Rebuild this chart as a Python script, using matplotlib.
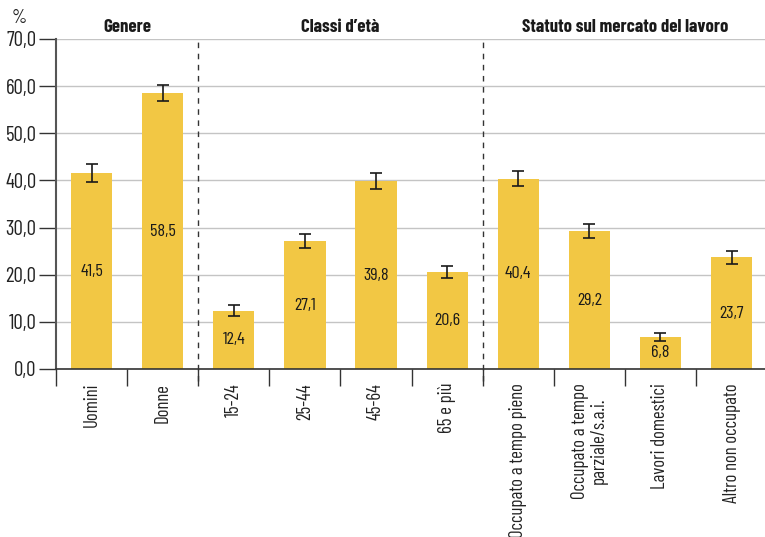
import matplotlib
matplotlib.use("Agg")
import matplotlib.pyplot as plt
from matplotlib.ticker import FixedLocator, NullFormatter

plt.rcParams["font.family"] = ["Barlow Condensed", "DejaVu Sans"]

categories = ["Uomini", "Donne", "15-24", "25-44", "45-64", "65 e più",
              "Occupato a tempo pieno", "Occupato a tempo\nparziale/s.a.i.",
              "Lavori domestici", "Altro non occupato"]
values = [41.5, 58.5, 12.4, 27.1, 39.8, 20.6, 40.4, 29.2, 6.8, 23.7]
errors = [1.9, 1.7, 1.2, 1.5, 1.7, 1.2, 1.6, 1.5, 0.9, 1.4]
labels = ["41,5", "58,5", "12,4", "27,1", "39,8", "20,6", "40,4", "29,2", "6,8", "23,7"]
groups = ["Genere", "Classi d\u2019età", "Statuto sul mercato del lavoro"]
group_centers = [0.5, 3.5, 7.5]
dividers = [1.5, 5.5]
yticks = [0, 10, 20, 30, 40, 50, 60, 70]
ytick_labels = ["0,0", "10,0", "20,0", "30,0", "40,0", "50,0", "60,0", "70,0"]

fig = plt.figure(figsize=(7.65, 5.37), dpi=100)
ax = fig.add_axes([56/765, 1-369/537, 1-56/765, (369-39)/537])

x = list(range(len(categories)))
ax.bar(x, values, width=0.58, color="#F2C744", zorder=2)
ax.errorbar(x, values, yerr=errors, fmt="none", ecolor="#1a1a1a",
            elinewidth=1.2, capsize=4, capthick=1.2, zorder=3)
for xi, v, lab in zip(x, values, labels):
    ax.text(xi, v/2, lab, ha="center", va="center", fontsize=13,
            color="#1a1a1a", zorder=4)

ax.set_xlim(-0.5, 9.47)
ax.set_ylim(0, 70)
ax.set_yticks(yticks)
ax.set_yticklabels(ytick_labels, fontsize=15, color="#222222")
ax.yaxis.grid(True, color="#c4c4c4", linewidth=1.0, zorder=0)
ax.set_axisbelow(True)
ax.tick_params(axis="y", length=12, width=1.0, color="#333333", pad=2)

ax.set_xticks(x)
ax.set_xticklabels(categories, rotation=90, fontsize=13.5, color="#222222",
                   va="top", ha="center", multialignment="center",
                   linespacing=1.0)
ax.tick_params(axis="x", which="major", length=0, pad=10)
ax.xaxis.set_minor_locator(FixedLocator([i - 0.5 for i in range(11)]))
ax.xaxis.set_minor_formatter(NullFormatter())
ax.tick_params(axis="x", which="minor", length=12, width=1.0, color="#333333")

for s in ["top", "right"]:
    ax.spines[s].set_visible(False)
ax.spines["left"].set_color("#555555")
ax.spines["left"].set_linewidth(1.5)
ax.spines["bottom"].set_color("#333333")
ax.spines["bottom"].set_linewidth(1.2)

for d in dividers:
    ax.plot([d, d], [-2.6, 70], color="#333333", linewidth=1.0,
            linestyle=(0, (4, 4)), clip_on=False, zorder=1)

for gc, g in zip(group_centers, groups):
    ax.text(gc, 72.5, g, ha="center", va="center", fontsize=13.5,
            fontweight="bold", color="#1a1a1a")

fig.text(12/765, 1-18/537, "%", fontsize=14, color="#222222", va="center")

fig.savefig("out.png", dpi=100)
